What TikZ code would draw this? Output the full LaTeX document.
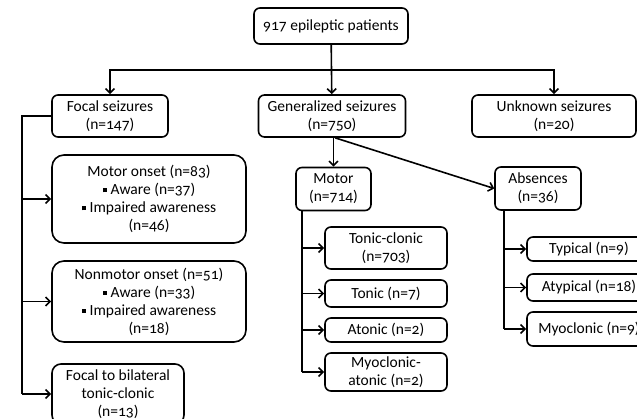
\documentclass[tikz,border=0pt]{standalone}
\usepackage{fontspec}
\setmainfont{Carlito}[Numbers=OldStyle]
\usetikzlibrary{arrows.meta}
\newcommand{\sqbullet}{\rule[0.3ex]{0.28em}{0.28em}\ }

\begin{document}
\begin{tikzpicture}[x=1pt,y=-1pt,
        box/.style={draw,line width=1.6pt,rounded corners=6pt,align=center,inner sep=0pt,
                font=\fontsize{15.5}{18}\selectfont},
        line/.style={line width=1.6pt},
        link/.style={line width=1.6pt,-{Straight Barb[length=4.5pt,width=9pt]}}]
        \path[use as bounding box,clip] (0,0) rectangle (637,418);
        % Top
        \node[box,minimum width=154,minimum height=36] (all) at (331,26) {917 epileptic patients};
        % Seizure types
        \node[box,minimum width=116,minimum height=42] (focal) at (110,116) {Focal seizures\\(n=147)};
        \node[box,minimum width=147,minimum height=42] (gen) at (332,116) {Generalized seizures\\(n=750)};
        \node[box,minimum width=164,minimum height=42] (unk) at (554,116) {Unknown seizures\\(n=20)};
        % Focal
        \node[box,rounded corners=12pt,minimum width=194,minimum height=88] (monset) at (149,199)
                {Motor onset (n=83)\\\sqbullet Aware (n=37)\\\sqbullet Impaired awareness\\(n=46)};
        \node[box,rounded corners=12pt,minimum width=194,minimum height=81] (nonmotor) at (149,301.5)
                {Nonmotor onset (n=51)\\\sqbullet Aware (n=33)\\\sqbullet Impaired awareness\\(n=18)};
        \node[box,rounded corners=9pt,minimum width=132,minimum height=60] (bilat) at (118,394)
                {Focal to bilateral\\tonic-clonic\\(n=13)};
        % Generalized
        \node[box,minimum width=75,minimum height=43] (motor) at (333.5,189) {Motor\\(n=714)};
        \node[box,minimum width=86,minimum height=43] (abs) at (538,188.5) {Absences\\(n=36)};
        \node[box,minimum width=122,minimum height=42] (tc) at (386,248) {Tonic-clonic\\(n=703)};
        \node[box,minimum width=122,minimum height=27] (tonic) at (386,293.5) {Tonic (n=7)};
        \node[box,minimum width=122,minimum height=24] (atonic) at (386,330) {Atonic (n=2)};
        \node[box,minimum width=122,minimum height=38] (myoat) at (386,372) {Myoclonic-\\atonic (n=2)};
        \node[box,minimum width=124,minimum height=24] (typ) at (589,249) {Typical (n=9)};
        \node[box,minimum width=124,minimum height=27] (atyp) at (589,287.5) {Atypical (n=18)};
        \node[box,minimum width=124,minimum height=34] (myo) at (589,329) {Myoclonic (n=9)};
        % Connectors
        \coordinate (split) at (331,70);
        \draw[link] (all) -- (gen);
        \draw[link] (split) -| (focal);
        \draw[link] (split) -| (unk);
        \draw[link] (gen.south -| motor) -- (motor);
        \draw[link] ([xshift=3]gen.south) -- (abs.west);
        \coordinate (fl) at (22,116);
        \draw[line] (focal.west) -- (fl) -- (fl |- bilat);
        \foreach \n in {monset,nonmotor,bilat}
                \draw[link] (fl |- \n) -- (\n);
        \draw[line] ([xshift=-31.5]motor.south) coordinate (ml) -- (ml |- myoat);
        \foreach \n in {tc,tonic,atonic,myoat}
                \draw[link] (ml |- \n) -- (\n);
        \draw[line] ([xshift=-34]abs.south) coordinate (al) -- (al |- myo);
        \foreach \n in {typ,atyp,myo}
                \draw[link] (al |- \n) -- (\n);
\end{tikzpicture}
\end{document}
